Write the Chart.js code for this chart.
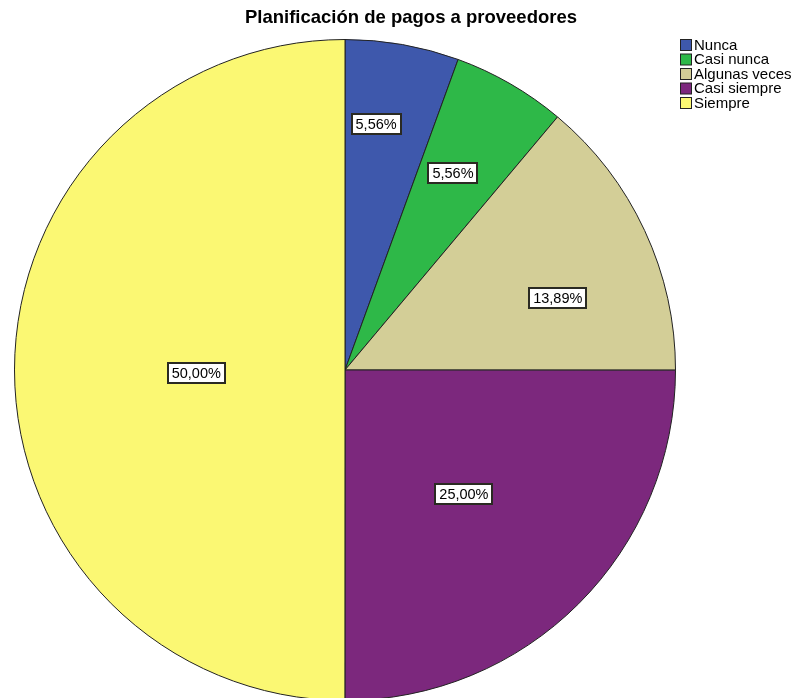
<!DOCTYPE html>
<html>
<head>
<meta charset="utf-8">
<script src="https://cdn.jsdelivr.net/npm/chart.js@4"></script>
<style>
    html, body {
        margin: 0;
        padding: 0;
        background: #ffffff;
        overflow: hidden;
    }
    #wrap {
        position: relative;
        width: 804px;
        height: 720px;
    }
</style>
</head>
<body>
<div id="wrap"><canvas id="pie"></canvas></div>
<script>
const TITLE = "Planificación de pagos a proveedores";
const categories = ["Nunca", "Casi nunca", "Algunas veces", "Casi siempre", "Siempre"];
const percentages = [5.56, 5.56, 13.89, 25.0, 50.0];
const sliceColors = ["#3e58ac", "#2eb848", "#d3ce97", "#7c287d", "#fbf873"];

// where each percentage box sits: angle shift (degrees) from the slice middle, and fraction of the radius
const labelPlacement = [
    { shift: -2.8, dist: 0.75 },
    { shift: -1.3, dist: 0.68 },
    { shift: 6.2, dist: 0.68 },
    { shift: 1.2, dist: 0.52 },
    { shift: -1.0, dist: 0.45 },
];

const FONT = "'Liberation Sans', Arial, sans-serif";

function formatPct(v) {
    return v.toFixed(2).replace(".", ",") + "%";
}

// title, legend and the boxed percentage labels
const decorations = {
    id: "decorations",
    afterDraw(chart) {
        const ctx = chart.ctx;
        ctx.save();

        ctx.fillStyle = "#000";
        ctx.font = "bold 18.5px " + FONT;
        ctx.textAlign = "center";
        ctx.textBaseline = "middle";
        ctx.fillText(TITLE, 411, 18);

        ctx.font = "15px " + FONT;
        ctx.textAlign = "left";
        categories.forEach((name, i) => {
            const y = 45 + i * 14.5;
            ctx.fillStyle = sliceColors[i];
            ctx.fillRect(680.5, y - 5.5, 11, 11);
            ctx.strokeStyle = "#222";
            ctx.lineWidth = 1;
            ctx.strokeRect(680.5, y - 5.5, 11, 11);
            ctx.fillStyle = "#000";
            ctx.fillText(name, 694, y + 0.5);
        });

        const meta = chart.getDatasetMeta(0);
        ctx.font = "14.5px " + FONT;
        ctx.textAlign = "center";
        meta.data.forEach((arc, i) => {
            const p = arc.getProps(["x", "y", "startAngle", "endAngle", "outerRadius"], true);
            const place = labelPlacement[i];
            const a = (p.startAngle + p.endAngle) / 2 + (place.shift * Math.PI) / 180;
            const r = p.outerRadius * place.dist;
            const cx = p.x + Math.cos(a) * r;
            const cy = p.y + Math.sin(a) * r;
            const text = formatPct(percentages[i]);
            const w = Math.round(ctx.measureText(text).width) + 8;
            const h = 20;
            const bx = Math.round(cx - w / 2);
            const by = Math.round(cy - h / 2);
            ctx.fillStyle = "#fff";
            ctx.fillRect(bx, by, w, h);
            ctx.strokeStyle = "#2a2a22";
            ctx.lineWidth = 2;
            ctx.strokeRect(bx, by, w, h);
            ctx.fillStyle = "#000";
            ctx.fillText(text, cx, by + h / 2 + 0.5);
        });

        ctx.restore();
    },
};

new Chart(document.getElementById("pie"), {
    type: "pie",
    data: {
        labels: categories,
        datasets: [
            {
                data: percentages,
                backgroundColor: sliceColors,
                borderColor: "#222",
                borderWidth: 1,
            },
        ],
    },
    options: {
        responsive: true,
        maintainAspectRatio: false,
        animation: false,
        layout: {
            padding: { left: 14, top: 39, right: 128, bottom: 19 },
        },
        plugins: {
            legend: { display: false },
            title: { display: false },
            tooltip: { enabled: false },
        },
    },
    plugins: [decorations],
});
</script>
</body>
</html>
